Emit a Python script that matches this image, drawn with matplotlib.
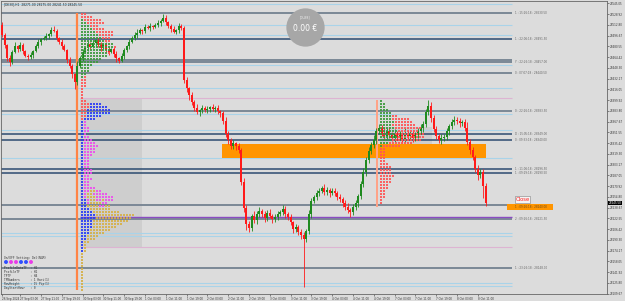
import numpy as np
import matplotlib.pyplot as plt
from matplotlib.patches import Rectangle

# DE30 H1 candles (26 Sep 20:00 -> 8 Oct)
first_open = 28512.5
closes = [
    28497.5, 28482.5, 28463, 28457, 28472, 28481, 28476.5, 28482.5, 28473.5, 28466,
    28464.5, 28467.5, 28473.5, 28481, 28487, 28491.5, 28493, 28496, 28499, 28505,
    28503.5, 28493, 28487, 28481, 28475, 28460, 28451, 28439, 28427, 28451,
    28463, 28472, 28478, 28484, 28479.5, 28485.5, 28490, 28482.5, 28478, 28484,
    28475, 28472, 28476.5, 28469, 28463, 28458.5, 28466, 28475, 28481, 28487,
    28493, 28497.5, 28500.5, 28505, 28503.5, 28509.5, 28508, 28511, 28509.5, 28512.5,
    28515.5, 28518.5, 28523, 28517, 28511, 28506.5, 28502, 28505, 28511, 28508,
    28430, 28418, 28407.5, 28397, 28388, 28382, 28385, 28388, 28385, 28386.5,
    28389.5, 28386.5, 28388, 28383.5, 28380.5, 28368.5, 28349, 28340, 28331, 28335.5,
    28331, 28325, 28277, 28238, 28214, 28208, 28226, 28220, 28229, 28233.5,
    28229, 28223, 28230.5, 28226, 28221.5, 28224.5, 28229, 28232, 28236.5, 28229,
    28224.5, 28217, 28206.5, 28209.5, 28202, 28197.5, 28191.5, 28203.5, 28229, 28248.5,
    28254.5, 28260.5, 28263.5, 28268, 28262, 28265, 28260.5, 28263.5, 28260.5, 28254.5,
    28251.5, 28245.5, 28239.5, 28235, 28232, 28239.5, 28245.5, 28256, 28274, 28292,
    28310, 28323.5, 28332.5, 28340, 28353.5, 28358, 28350.5, 28346, 28353.5, 28347.5,
    28343, 28349, 28344.5, 28347.5, 28341.5, 28350.5, 28346, 28349, 28343, 28347.5,
    28353.5, 28358, 28364, 28382, 28391, 28373, 28356.5, 28346, 28340, 28343,
    28344.5, 28353.5, 28361, 28367, 28370, 28368.5, 28365.5, 28367, 28358, 28337,
    28325, 28314.5, 28296.5, 28287.5, 28292, 28271, 28245.5,
]
wick_up = [
    4, 3, 2, 5, 3, 6, 2, 4, 3, 2,
    3, 5, 2, 3, 4, 2, 3, 5, 2, 4,
    6, 3, 2, 4, 3, 2, 5, 3, 2, 8,
    3, 4, 2, 5, 3, 4, 2, 3, 5, 2,
    3, 4, 2, 3, 5, 2, 4, 3, 2, 5,
    3, 4, 6, 3, 2, 5, 3, 4, 2, 3,
    5, 3, 6, 4, 2, 3, 5, 2, 4, 3,
    3, 5, 2, 4, 3, 6, 2, 4, 3, 5,
    2, 4, 3, 5, 2, 3, 6, 4, 3, 5,
    2, 4, 3, 6, 4, 5, 3, 8, 4, 6,
    3, 5, 4, 6, 3, 4, 5, 3, 6, 4,
    3, 5, 2, 4, 3, 5, 4, 3, 6, 5,
    3, 4, 5, 3, 6, 4, 3, 5, 4, 3,
    5, 3, 4, 6, 3, 5, 4, 3, 5, 6,
    4, 6, 5, 8, 4, 6, 5, 9, 4, 6,
    5, 7, 4, 6, 5, 8, 4, 5, 6, 4,
    5, 6, 4, 5, 9, 6, 4, 5, 3, 6,
    4, 5, 3, 4, 6, 5, 4, 3, 5, 9,
    4, 5, 3, 6, 4, 5, 4,
]
wick_dn = [
    3, 5, 4, 6, 3, 2, 4, 3, 5, 2,
    4, 3, 5, 2, 3, 4, 2, 3, 5, 3,
    2, 4, 3, 5, 2, 4, 3, 6, 10, 4,
    3, 5, 2, 4, 3, 2, 5, 3, 4, 2,
    3, 5, 2, 4, 6, 3, 2, 4, 3, 5,
    2, 3, 4, 2, 5, 3, 2, 4, 3, 2,
    3, 4, 2, 5, 3, 4, 2, 3, 5, 3,
    4, 6, 8, 4, 5, 3, 6, 4, 3, 5,
    4, 3, 5, 4, 6, 5, 4, 6, 5, 4,
    6, 5, 4, 6, 9, 6, 5, 4, 6, 5,
    4, 6, 5, 3, 6, 4, 5, 3, 4, 6,
    5, 4, 6, 5, 4, 6, 72, 5, 4, 6,
    3, 5, 4, 3, 5, 4, 6, 3, 5, 4,
    5, 6, 4, 5, 7, 5, 4, 6, 5, 4,
    6, 5, 4, 5, 6, 4, 5, 6, 4, 5,
    4, 6, 5, 4, 6, 5, 4, 5, 6, 4,
    5, 4, 6, 5, 4, 6, 5, 4, 5, 6,
    4, 5, 6, 4, 5, 4, 6, 5, 4, 5,
    6, 4, 5, 8, 5, 18, 4,
]

# horizontal levels
level_light = [28544.0, 28512.5, 28497.5, 28452.5, 28418.0, 28379.0, 28355.0,
               28313.0, 28200.5, 28196.0, 28125.5, 28121.0]
level_gray = [28530.5, 28460.0, 28457.0, 28440.5, 28383.5, 28242.5, 28221.5, 28148.0]
level_navy = [28491.5, 28349.0, 28340.0, 28296.5, 28290.5]
level_va = [28403.0, 28179.5]
level_poc = 28224.5

label_prices = [28530.5, 28491.5, 28457.0, 28440.5, 28383.5, 28349.0, 28340.0,
                28296.5, 28290.5, 28221.5, 28148.0]
label_texts = ["1 : 15:26:18 : 28530.50", "1 : 22:06:18 : 28491.50", "Y : 22:26:18 : 28457.00",
               "0 : 07:07:18 : 28440.50", "0 : 22:26:18 : 28383.50", "D : 15:05:18 : 28349.00",
               "0 : 09:33:18 : 28340.00", "1 : 11:06:18 : 28296.50", "1 : 09:29:18 : 28290.50",
               "2 : 09:26:18 : 28221.50", "1 : 23:26:18 : 28148.00"]

zone_low, zone_high = 28313.0, 28334.0
close_level_text = "1 : 09:26:18 : 28240.00"

# TPO market profiles, one string per row (top row first)
left_profile_top = 28529.0
left_profile = [
    "rr", "rrrr", "grrrrrr", "ggrrrrrr", "gggrrr", "ggggrrrr", "gggggrrrrrr", "ggggggrrrrr",
    "gggggggrrr", "ggggggggrr", "ggggggggggg", "gggggggggggr", "gggggggggg", "gggggggggr",
    "ggggggggg", "ggggggg", "gggggg", "gggg", "ggg", "ggg", "gg", "gr", "rr", "rr", "rr",
    "r", "r", "r",
    "r", "rr", "rrrbbbb", "rrrbbbbbb", "rrbbbbbbbb", "rrbbbbbbbb", "rrbbbbb", "rbbbb", "bm",
    "bm", "bmm", "bmm", "bm", "bmm", "bmmm", "bmmmm", "bmmmmm", "bmmmm", "bmmmm", "bmmm",
    "bmm", "bmm", "bmm", "bmm", "bmmm", "bmmm", "bmm", "bmmm", "bmm", "bmm", "bmmmm",
    "bmmyymm", "bmyymmmmm", "bmyyymmmmmm", "bbmyymmymmm", "bbmyyyymm", "bbyyyymmyy",
    "bbbyyyyyyy", "bbbbyyyyyyyyy", "bbbbbyyyyyyyyyyyyy", "bbbbbyyyyyyyyyyyy",
    "bbbbyyyyyyyyyyyy", "bbbbyyyyyyyyyy", "bbbbyyyyyyyy", "bbbyyyyyyy", "bbbyyyyy",
    "bbyyyy", "bbyyy", "byy", "by", "by", "by",
    "y", "y", "y", "y", "y", "y", "y", "y", "y", "y", "y", "y", "y",
]
right_profile_top = 28398.5
right_profile = [
    "g", "gg", "gg", "ggg", "gggg", "ggggrr", "ggggrrrrrr", "gggggrrrrrr", "ggggrrrrrrrr",
    "gggggrrrrrrrrr", "ggggggrrrrrrr", "gggggrrrrrrrrrr", "ggggggrrrrrrrrr", "ggggrrrrrrrrrr",
    "gggrrrrrrrr", "grrrrrr", "rr", "rr", "rr", "rr", "rr", "rrr", "rrrr", "rrrr", "rrrr",
    "rrrrr", "rrrr", "rrrr", "rrr", "rrr", "rr", "rr", "rr", "r", "r",
]
row_step = 4.5

xtick_pos = [0, 7, 15, 23, 31, 39, 47, 55, 63, 71, 79, 87, 95, 103, 111, 119, 127,
             135, 143, 151, 159, 167, 175, 183]
xtick_labels = ["26 Sep 2024", "27 Sep 03:00", "27 Sep 11:00", "27 Sep 19:00", "30 Sep 03:00",
                "30 Sep 11:00", "30 Sep 19:00", "1 Oct 03:00", "1 Oct 11:00", "1 Oct 19:00",
                "2 Oct 03:00", "2 Oct 11:00", "2 Oct 19:00", "3 Oct 03:00", "3 Oct 11:00",
                "3 Oct 19:00", "4 Oct 03:00", "4 Oct 11:00", "4 Oct 19:00", "7 Oct 03:00",
                "7 Oct 11:00", "7 Oct 19:00", "8 Oct 03:00", "8 Oct 11:00"]

panel_lines = ["ProfileDataTF  : H1", "ProfileTF      : H1", "TPTF           : H4",
               "TPNumbers      : 1 Hari(1)", "RowHeight      : 15 Pip(1)", "DayStartHour   : 0"]
panel_dots = ['#2f4dff', '#e83ce8', '#e83ce8', '#2f4dff', '#2f4dff', '#e83ce8']

tpo_colors = {'g': '#3d9a3d', 'r': '#ff5555', 'b': '#2a3cf5', 'm': '#ee4cee', 'y': '#d6b048'}


def px_x(p):
    return (p - 2) / 2.6


def px_y(p):
    return 28550 - 1.5 * p


bg = '#dcdcdc'
fig = plt.figure(figsize=(6.25, 3.01), dpi=100, facecolor=bg)
ax = fig.add_axes([1 / 625, 7 / 301, 606 / 625, 293.5 / 301], facecolor=bg)
ax.set_xlim(px_x(1), px_x(607))
ax.set_ylim(px_y(294), px_y(0.5))

# shaded profile areas
ax.add_patch(Rectangle((px_x(80), px_y(247)), px_x(142) - px_x(80), px_y(98) - px_y(247),
                       fc='#cecece', ec='none', zorder=0.5))
ax.add_patch(Rectangle((px_x(380), px_y(148)), px_x(432) - px_x(380), px_y(127) - px_y(148),
                       fc='#cecece', ec='none', zorder=0.5))

# levels
x0, x1 = px_x(1), px_x(512)
ax.hlines(level_light, x0, x1, color='#a9d3e9', lw=0.8, zorder=1)
ax.hlines(level_gray, x0, x1, color='#7b8896', lw=1.4, zorder=1)
ax.hlines(level_navy, x0, x1, color='#2c4b70', lw=1.1, zorder=1)
ax.hlines(level_va, px_x(80), x1, color='#ddb4d2', lw=0.8, zorder=1)
ax.hlines(level_poc, px_x(80), x1, color='#8a4cc2', lw=1.0, zorder=1)

ax.add_patch(Rectangle((px_x(222), zone_low), px_x(486) - px_x(222), zone_high - zone_low,
                       fc='#ff9500', ec='none', zorder=1.5))

ax.vlines(px_x(77), px_y(290), px_y(13), color='#ff8446', lw=1.6, zorder=2)
ax.vlines(px_x(377), px_y(207), px_y(100), color='#ffa286', lw=1.4, zorder=2)

# candles
c = np.array(closes, dtype=float)
o = np.concatenate([[first_open], c[:-1]])
hi = np.maximum(o, c) + np.array(wick_up)
lo = np.minimum(o, c) - np.array(wick_dn)
x = np.arange(len(c))
col = np.where(c >= o, '#1f8a1f', '#ff1a1a')
ax.vlines(x, lo, hi, color=col, lw=0.6, zorder=3)
ax.bar(x, np.maximum(np.abs(c - o), 0.8), bottom=np.minimum(o, c), width=0.8,
       color=col, linewidth=0, zorder=3)

# profiles
col_step = 1.15
for rows, top, start in [(left_profile, left_profile_top, px_x(82)),
                         (right_profile, right_profile_top, px_x(381))]:
    px, py, pc = [], [], []
    for k, row in enumerate(rows):
        for j, ch in enumerate(row):
            px.append(start + j * col_step)
            py.append(top - k * row_step)
            pc.append(tpo_colors[ch])
    ax.scatter(px, py, s=2.2, c=pc, marker='s', linewidths=0, alpha=0.9, zorder=4)

# level labels
for p, t in zip(label_prices, label_texts):
    ax.text(px_x(515), p, t, fontsize=2.0, color='#666666', va='center', zorder=5)

ax.add_patch(Rectangle((px_x(507), px_y(210)), px_x(553) - px_x(507), px_y(204) - px_y(210),
                       fc='#ff9500', ec='none', zorder=5))
ax.text(px_x(515), px_y(207), close_level_text, fontsize=2.0, color='#6a4a1e', va='center', zorder=6)
ax.text(px_x(515.5), px_y(199.5), 'Close', fontsize=3.8, color='#ff2020', va='center', zorder=6,
        bbox=dict(boxstyle='square,pad=0.12', fc='#f4f4f4', ec='#808080', lw=0.4))

# equity badge
ax.scatter([px_x(305)], [px_y(27)], s=760, color='#a7a7a7', linewidths=0, zorder=6)
ax.text(px_x(305), px_y(17), '[DUB8]', fontsize=2.2, color='#eeeeee', ha='center', va='center', zorder=7)
ax.text(px_x(305), px_y(28.5), '0.00 €', fontsize=5.5, color='white', ha='center', va='center', zorder=7)

# header
ax.text(px_x(4), px_y(4.5), '[DE30],H1  28271.00 28275.00 28241.50 28245.50', fontsize=2.2,
        color='#222222', va='center', zorder=7)

# info panel
ax.text(px_x(4), px_y(257.5), 'On/OFF Setting: Del(NUM)', fontsize=2.2, family='DejaVu Sans Mono',
        color='#333333', va='center', zorder=7)
ax.scatter([px_x(6 + 5 * k) for k in range(len(panel_dots))], [px_y(262)] * len(panel_dots),
           s=8, c=panel_dots, linewidths=0, zorder=7)
for k, t in enumerate(panel_lines):
    ax.text(px_x(4), px_y(268 + 4 * k), t, fontsize=2.2, family='DejaVu Sans Mono',
            color='#333333', va='center', zorder=7)

# axes
yt = np.arange(28545.05, 28105, -16.125)
ax.set_yticks(yt)
ax.set_yticklabels(['%.2f' % v for v in yt], fontsize=2.0)
ax.yaxis.tick_right()
ax.set_xticks(xtick_pos)
ax.set_xticklabels(xtick_labels, fontsize=2.0, ha='left')
ax.tick_params(axis='both', length=1.5, width=0.4, pad=0.5, colors='#333333')
for s in ax.spines.values():
    s.set_color('#666666')
    s.set_linewidth(0.6)

ax.annotate('%.2f' % closes[-1], xy=(1.003, closes[-1]), xycoords=('axes fraction', 'data'),
            fontsize=2.0, color='white', va='center', ha='left',
            bbox=dict(boxstyle='square,pad=0.15', fc='black', ec='none'))

fig.savefig('out.png', dpi=100, facecolor=bg)
